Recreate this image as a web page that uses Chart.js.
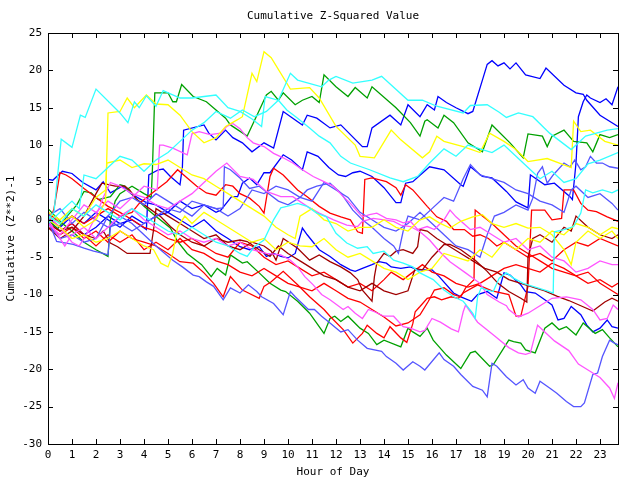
<!DOCTYPE html>
<html>
<head>
<meta charset="utf-8">
<script src="https://cdn.jsdelivr.net/npm/chart.js@4/dist/chart.umd.min.js"></script>
<style>
  html, body { margin: 0; padding: 0; background: #fff; }
  canvas { display: block; }
</style>
</head>
<body>
<canvas id="chart" width="640" height="480"></canvas>
<script>
'use strict';

/* ── Axis ticks ───────────────────────────────────────────── */
const hourTicks = [0,1,2,3,4,5,6,7,8,9,10,11,12,13,14,15,16,17,18,19,20,21,22,23];
const valueTicks = [-30,-25,-20,-15,-10,-5,0,5,10,15,20,25];

/* ── Series: [hour, cumulative value] ─────────────────────── */
const cyanTop = [[0,0],[0.25,1],[0.55,10.8],[1,9.7],[1.35,14],[1.55,13.7],[2,17.5],[3,14.3],[3.33,13],[3.6,15.8],[3.8,15],[4.1,16.6],[4.5,15.2],[4.8,17.3],[5.5,16.3],[6,16.3],[6.5,16.5],[7,16.7],[7.5,15],[8,14.5],[8.5,13.5],[8.9,12.5],[9.05,16.5],[9.6,16],[10.1,19.6],[10.4,18.7],[11.4,17.8],[11.7,18.7],[12,19.2],[12.7,18.3],[13.5,18.7],[13.9,19.2],[15,16],[15.6,16],[16.2,15.2],[17.3,14.3],[17.6,15.3],[18.3,15.4],[18.8,14.4],[19.1,13.7],[19.6,14.3],[20.2,13.8],[20.9,11.6],[21.8,9.4],[22.4,11.2],[23.3,12],[23.75,12.2]];
const cyanUpper = [[0,-0.5],[0.5,1],[1,2.5],[1.3,1.5],[1.5,6],[2,5.5],[2.5,7],[3,8.5],[3.5,8],[4,6.5],[4.5,8],[5,9],[5.5,10.5],[6,12],[6.5,13],[7,14.5],[7.6,13.6],[8.1,14.7],[8.6,13.8],[9.1,14.5],[9.6,16],[9.95,14.7],[10.4,13.6],[10.9,12.3],[11.3,11.2],[11.75,10.3],[12.2,8.5],[12.6,7.6],[13.4,6.7],[14.25,5.6],[14.8,5.1],[15.4,5.8],[15.9,7.6],[16.5,9.5],[17,8.5],[17.5,10],[18,9.5],[18.5,9],[19,10],[19.5,8.5],[20,7],[20.5,5.5],[21,6.5],[21.5,5],[22,5.5],[22.5,7.5],[23,8],[23.75,9]];
const cyanMid = [[0,0.5],[0.5,-0.5],[1,1.5],[1.5,0.5],[2,2],[2.5,1],[3,0],[3.5,1.5],[4,0.5],[4.5,-0.5],[5,-1.5],[5.5,-2],[6,-1],[6.5,-2],[7,-3],[7.5,-3.5],[8,-4.5],[8.3,-4.9],[8.6,-3.6],[9,-2.7],[9.4,0],[9.7,1.6],[9.95,1.8],[10.4,2.2],[10.8,1.8],[11.2,0.9],[11.6,0.4],[12,-1.8],[12.45,-3.1],[12.9,-3.8],[13.3,-3.6],[13.55,-4.5],[14,-4.2],[14.4,-5.4],[14.8,-5.8],[15.2,-6.3],[15.5,-7.1],[16.05,-8],[16.5,-9.4],[16.9,-10.3],[17.3,-10.9],[17.7,-12.5],[17.8,-13.2],[17.9,-10.3],[18.05,-9.1],[18.3,-9.4],[18.55,-9.6],[18.8,-7.8],[19.1,-7.1],[19.4,-7.8],[19.8,-8.5],[20.3,-9],[20.8,-9.5],[21.05,-9.8],[21.1,-1.6],[21.5,-1.3],[21.9,-0.9],[22.2,0.9],[22.4,4],[22.7,3.6],[23.1,4],[23.5,3.6],[23.75,4]];

const yellowPeak = [[0,0.5],[0.5,-0.5],[1,0.5],[1.5,-1],[2,0],[2.4,2.5],[2.5,14.3],[3,14.5],[3.3,16.3],[3.6,15],[4.1,16.7],[4.5,15.5],[5,15.4],[5.5,14],[6,11.8],[6.5,10.3],[7,11],[7.4,12.5],[7.9,13.4],[8.1,13.8],[8.5,19.6],[8.7,18.5],[9,22.5],[9.3,21.7],[10.1,17.5],[10.9,17.7],[11.3,16.3],[12,12.5],[12.8,10],[13,8.5],[13.6,8.3],[14.3,12],[14.7,10.7],[15.6,8.3],[15.9,9.1],[16.2,11.2],[16.5,10.5],[17.3,9.8],[18,9],[18.4,11.6],[19,10.5],[19.5,9.4],[20,7.8],[20.8,8.2],[21.8,7],[21.9,13.2],[22.2,11.8],[22.6,12],[23.2,10.5],[23.75,10]];
const yellowMid = [[0,1],[0.5,0],[1,1.5],[1.5,0.5],[2,3],[2.4,4],[2.45,7.6],[3,8],[3.5,7],[4,7.5],[4.5,7.4],[5,8],[5.5,7],[6,6],[6.5,5.5],[7,4.5],[7.5,3.5],[8,2.5],[8.5,1.5],[9,0.5],[9.5,-1],[10,-2],[10.3,-2.5],[10.5,0.5],[11,1.5],[11.5,0],[12,-0.5],[12.5,-1.5],[13,-1],[13.5,-1],[14,0],[14.5,-1],[15,-1.5],[15.5,0],[15.9,0.4],[16.3,-0.4],[16.75,-1.1],[17.2,-0.2],[17.7,0.4],[18.1,0.7],[18.5,-0.5],[19,-1],[19.5,-0.5],[20,-1.1],[20.5,-1],[21,-2],[21.5,-4],[21.8,-6],[22,-3],[22.5,-1.5],[23,-2.5],[23.5,-1.5],[23.75,-2.5]];
const yellowLow = [[0,0],[0.5,-1],[1,-2.5],[1.5,-2],[2,-3],[2.5,-2.5],[3,-1.5],[3.5,-2.5],[4,-3.5],[4.4,-4],[4.7,-5.8],[5,-6.3],[5.2,-4.5],[5.4,-1],[5.7,0.5],[6,-0.5],[6.5,1],[7,0],[7.5,-1],[8,-2],[8.5,-3],[9,-2.5],[9.5,-4],[10,-3],[10.5,-3.5],[11,-3.6],[11.5,-2.5],[12,-4],[12.5,-5],[13,-4.5],[13.5,-5.5],[14,-6.5],[14.5,-7],[15,-8],[15.5,-7],[16,-6.5],[16.5,-4.5],[17,-5],[17.5,-5.5],[18,-4],[18.5,-5],[19,-3],[19.5,-4],[20,-2.5],[20.5,-3],[21,-1.5],[21.5,-2],[22,-0.5],[22.5,-1],[23,-2],[23.5,-1],[23.75,-1.2]];

const blueTopStart = [[0,5.4],[0.2,5.3],[0.6,6.5],[1,6.2],[1.45,5],[2,4],[2.3,5.1],[2.6,3.6],[3.1,4.5],[3.5,3.4],[4.1,2.3],[4.5,2],[5,1],[5.5,0],[6,-1],[6.5,0],[7,-1.5],[7.5,-2.5],[8,-3.6],[8.4,-4],[8.8,-3.6],[9.1,-4.9],[9.4,-4.5],[9.7,-4.9],[10,-5.1],[10.3,-4.5],[10.6,-1.1],[10.8,-2],[11.3,-4],[11.75,-4.9],[12.2,-6],[12.6,-6.7],[12.8,-6.9],[13.1,-6.5],[13.5,-6],[13.8,-5.6],[14.1,-5.8],[14.3,-6.3],[14.7,-6.5],[15.1,-6.3],[15.4,-6.7],[16,-6.7],[16.3,-7.6],[16.9,-9.8],[17.2,-10.3],[17.65,-10.9],[17.9,-10],[18.3,-9.6],[18.7,-10.5],[19,-7.1],[19.25,-7.4],[19.7,-8.7],[19.9,-9.6],[20.3,-9.8],[20.7,-10.7],[21,-11.4],[21.25,-13.4],[21.5,-13.2],[21.8,-11.6],[22.2,-12.7],[22.45,-14.1],[22.7,-15],[23,-14.5],[23.3,-13.4],[23.5,-14.3],[23.75,-14.5]];
const blueLateJump = [[0,0.3],[0.5,-1],[1,0.5],[1.5,-0.5],[2,1],[2.5,0],[3,-1],[3.5,0.5],[4,-0.5],[4.5,0.5],[5,1],[5.5,2.5],[6,1.5],[6.5,2],[7,1],[7.2,1.3],[7.65,3.1],[7.9,3.1],[8.1,4.9],[8.4,5.6],[8.7,4.7],[9,6.3],[9.25,6.3],[9.8,8.7],[10.15,8],[10.6,6.7],[10.8,9.1],[11.25,8.5],[11.7,7],[12.1,6],[12.4,5.8],[12.7,6.3],[13,6.5],[13.5,5.8],[14,4.3],[14.5,2.3],[14.7,2.3],[14.9,4.9],[15.2,5.1],[15.9,7.1],[16.5,6.7],[17.2,4.7],[17.3,4.5],[17.6,7.1],[18.1,5.8],[18.5,5.6],[19.1,3.8],[19.5,2.4],[20,1.6],[20.1,6],[20.2,5.8],[20.7,4.7],[21.1,4.9],[21.75,3.1],[21.85,2.7],[22,7.6],[22.1,13.8],[22.3,15.8],[22.45,16.7],[22.6,16.3],[23,15.7],[23.25,16.2],[23.5,15.4],[23.75,17.8]];
const blueHigh = [[0,0],[0.5,-1.5],[1,-0.5],[1.5,-2],[2,-1],[2.5,0.5],[3,-0.5],[3.5,0],[4.1,-1.3],[4.2,6],[4.6,6.7],[4.8,6.8],[5.1,5.8],[5.5,4.7],[5.6,7.1],[5.65,12],[6.5,12.7],[6.7,11.6],[7,10.7],[7.4,12],[7.7,11],[8.1,10.3],[8.5,9.1],[9,10.3],[9.4,9.6],[9.8,14.5],[10.6,12.7],[10.8,14],[11.2,13.6],[11.75,12.3],[12.2,12.7],[13.1,9.8],[13.3,9.8],[13.5,12.3],[14.25,14],[14.7,12.7],[15,15.4],[15.5,13.8],[15.8,15.4],[16.1,14.7],[16.25,16.5],[16.6,15.7],[17,15],[17.5,14.2],[17.7,14.5],[18.1,18.7],[18.3,20.8],[18.5,21.3],[18.75,20.6],[19,21],[19.25,20.2],[19.5,21],[19.9,19.4],[20.5,18.9],[20.75,20.3],[21.5,18],[22,17],[22.3,16.8],[22.45,16],[23,14],[23.75,12.5]];

const slateLow = [[0,0],[0.36,-2.9],[0.7,-3.1],[1.05,-3.3],[1.5,-3.8],[1.9,-4.2],[2.3,-4.5],[2.5,-4.7],[2.6,-1],[3,0.5],[3.5,-0.5],[4,-2],[4.5,-3.5],[5.2,-5.4],[5.6,-6.3],[6.05,-7.4],[6.3,-7.6],[6.6,-8.3],[6.9,-8.9],[7.3,-10.7],[7.6,-9.1],[8,-9.8],[8.35,-8.7],[8.7,-9.6],[8.9,-10.3],[9.4,-11.2],[9.8,-12.7],[10.1,-9.6],[10.3,-10.3],[10.85,-12],[11.1,-12],[11.4,-12.9],[11.75,-13.8],[12.2,-15],[12.5,-14.7],[12.9,-16.1],[13.3,-17.2],[13.9,-17.6],[14.1,-18.3],[14.5,-19.2],[14.8,-20.1],[15.2,-19],[15.5,-19.6],[15.7,-20.1],[16.3,-17.8],[16.5,-18.7],[16.9,-19.6],[17.2,-20.7],[17.7,-22.3],[18.1,-22.8],[18.3,-23.7],[18.5,-19.2],[18.7,-19.6],[19.1,-21],[19.5,-22.1],[19.8,-21.4],[20,-22.5],[20.3,-23.2],[20.5,-21.6],[20.9,-22.5],[21.2,-23.2],[21.6,-24.3],[21.9,-25],[22.2,-25],[22.35,-24.5],[22.7,-20.7],[22.9,-20.5],[23.1,-18.3],[23.4,-16.1],[23.6,-16.5],[23.75,-16.7]];
const slateRise = [[0,-0.5],[0.5,-2.5],[1,-2],[1.5,-3],[2,-2.5],[2.5,0.5],[3,2.5],[3.5,3],[4,2],[4.5,3.5],[5,2.5],[5.5,1.5],[6,0.5],[6.5,2],[7,1.5],[7.5,0.5],[8,1.5],[8.5,4],[9,3.5],[9.5,4.5],[10,4],[10.5,3],[11,2.5],[11.5,5],[12,4],[12.5,3],[13,1],[13.5,0],[14,-1],[14.5,-1.5],[15,-0.5],[15.5,1],[16,-0.5],[16.5,-2],[17,-3.5],[17.5,-4],[18,-5],[18.3,-2],[18.6,0.5],[19,1],[19.5,2],[20,1.3],[20.2,2.9],[20.4,6.2],[20.6,7.1],[20.8,4.9],[21.05,6],[21.5,7.6],[21.75,7.1],[21.95,8],[22.2,6.7],[22.4,7.1],[22.6,8.5],[22.85,7.6],[23.1,7.6],[23.4,7.1],[23.75,6.9]];
const slateMid = [[0,0.5],[0.5,1.5],[1,-0.5],[1.5,1],[2,0],[2.5,-1],[3,-0.5],[3.5,-1.5],[4,-0.5],[4.5,0.5],[5,1.5],[5.5,1],[6,2.5],[6.5,2],[7,1.5],[7.3,1.6],[7.35,7.1],[7.6,6.7],[8,5.6],[8.4,4.2],[8.8,4.5],[9.2,3.5],[9.6,2.5],[10,2],[10.5,3],[10.8,4],[11.2,4.5],[11.75,4.9],[12.2,3.6],[12.7,1.3],[13.1,0],[13.5,-1],[14,-2.5],[14.4,-3.5],[14.6,-4.5],[14.8,-1.5],[15,0.5],[15.5,0],[16,1.5],[16.5,3],[16.9,2.5],[17.3,5.5],[17.6,7.4],[18,6],[18.5,5.5],[19,5],[19.5,4],[20,3.5],[20.5,2.5],[21,2],[21.5,1],[21.8,4],[22,4.5],[22.5,3],[23,3.5],[23.5,2.2],[23.75,1.3]];

const greenHigh = [[0,1.5],[0.3,0.5],[0.6,-0.5],[1,-1.5],[1.5,-3],[2,-4],[2.5,-4.9],[2.6,0],[2.8,2.5],[3,3.5],[3.5,4.5],[4,3.5],[4.3,3],[4.35,6.7],[4.45,17],[5,17],[5.2,15.8],[5.35,15.8],[5.57,18.1],[6.05,16.5],[6.6,15.8],[7,14.7],[7.4,13.6],[7.6,12.7],[8.3,11.2],[8.75,14.3],[9.1,16.7],[9.3,17.2],[9.6,16],[9.8,17],[10.3,15.4],[10.6,16],[11,16.5],[11.3,15.7],[11.5,19.4],[12,17.8],[12.5,16.5],[12.8,17.7],[13.3,16.3],[13.5,17.8],[14.5,15],[15.1,13],[15.5,11.2],[15.7,13.2],[15.8,13.4],[16.25,12.3],[16.5,14],[16.9,13],[17.5,10.3],[18.1,9.1],[18.5,12.7],[19.25,10.3],[19.8,8.3],[20,11.5],[20.6,11.2],[20.8,9.8],[21,11.2],[21.5,12],[21.9,10.5],[22.45,10.3],[22.7,9.1],[23,11.4],[23.4,11],[23.75,11.4]];
const greenLow = [[0,0],[0.4,-1.2],[0.8,0.5],[1.2,2],[1.5,3.8],[1.8,3.6],[2.1,2.7],[2.6,3.1],[3,4.7],[3.2,4.5],[3.6,3.1],[4,1.8],[4.4,0.7],[5.1,-1.1],[5.4,-2.9],[5.8,-4.5],[6.4,-6],[6.8,-7.6],[7.05,-6.5],[7.4,-7.4],[7.6,-4.7],[8.1,-5.8],[8.3,-5.6],[8.8,-7.1],[9.25,-8.5],[9.7,-9.4],[9.9,-9.6],[10.4,-10.9],[10.9,-12.5],[11.5,-15.2],[11.75,-13.2],[11.95,-12.9],[12.2,-13.6],[12.5,-12.9],[13,-14.5],[13.35,-15.2],[13.7,-16.7],[14,-16.1],[14.7,-17],[15,-14.5],[15.2,-15],[15.5,-15.6],[15.8,-14.5],[16.05,-16.1],[16.6,-18.1],[17.2,-19.9],[17.6,-17.8],[17.8,-17.6],[18.4,-19.6],[18.55,-19.4],[19.2,-16.1],[19.4,-16.3],[19.7,-16.5],[19.9,-17.4],[20.3,-17.8],[20.7,-14.5],[21,-13.8],[21.3,-14.7],[21.6,-14.3],[22,-15.4],[22.3,-13.8],[22.8,-15.2],[23.1,-14.7],[23.4,-15.8],[23.75,-17]];

const magentaLow = [[0,0],[0.3,-1.5],[0.7,-3.5],[1,-2],[1.5,-1],[2,-2.5],[2.5,-1],[3,0.5],[3.5,1.5],[4,0],[4.5,-1],[5,-2],[5.5,-1.5],[6,-2.5],[6.5,-3],[7,-2.5],[7.5,-3.5],[8,-3],[8.5,-4],[9.1,-4.5],[9.7,-4.7],[10.1,-5.4],[10.4,-6.3],[10.7,-7.6],[11.05,-8.7],[11.4,-10],[11.75,-10.7],[12.3,-12],[12.5,-11.6],[12.8,-12.5],[13.1,-13.2],[13.35,-12],[13.6,-12.3],[14,-12.9],[14.4,-12.9],[14.8,-14.3],[15.1,-14.5],[15.5,-15],[15.7,-14.8],[16,-13.2],[16.35,-13.7],[16.8,-14.6],[17.1,-15],[17.3,-12.3],[17.4,-11.4],[17.9,-13.7],[18.6,-15.5],[19.2,-17.1],[19.6,-17.8],[19.9,-18],[20.1,-17.8],[20.4,-14.1],[20.7,-15],[21.1,-16.2],[21.7,-17.5],[22.1,-19.3],[22.55,-20.2],[23,-21.1],[23.4,-22.5],[23.6,-23.9],[23.75,-21.8]];
const magentaMid = [[0,-0.5],[0.5,-2],[1,0],[1.5,2],[2,1],[2.5,2.5],[3,1.5],[3.5,3],[4,4.5],[4.55,4],[4.65,10],[4.8,10],[5.2,9.6],[5.8,8.7],[6,11.5],[6.3,11.8],[6.75,11.4],[7.2,11.6],[7.45,12.5],[7.7,12.9],[8,12.2],[8.3,11],[8.55,10.3],[9,9.8],[9.4,8.9],[9.8,8.3],[10.2,7.6],[10.6,6.7],[11.05,5.8],[11.5,5.1],[11.9,4.5],[12.3,3.1],[12.6,2.2],[12.9,1.1],[13.1,0.4],[13.4,0.7],[13.7,0.9],[14.1,0.2],[14.5,0],[14.8,-0.4],[15.1,-0.2],[15.4,-1.3],[15.8,-0.9],[16.1,-1.3],[16.5,0],[16.75,1.3],[17,0.4],[17.6,-1.3],[18,-1],[18.5,-2],[19,-3],[19.5,-2.5],[20,-4],[20.5,-3.5],[21,-5],[21.5,-5.5],[22,-7],[22.5,-6.5],[23,-5.5],[23.5,-6],[23.75,-6]];
const magentaDrift = [[0,0.5],[0.5,-1],[1,-3],[1.3,-3.5],[1.6,-2],[2,0.5],[2.3,3],[2.6,5],[3,4.5],[3.5,3.5],[4,3],[4.5,2],[5,1.5],[5.5,2.5],[6,3.5],[6.5,5],[7,6.5],[7.45,7.6],[8,5.8],[8.55,5.4],[9.1,3.8],[9.7,3.1],[10.2,3.1],[10.8,1.8],[11.3,0.9],[11.9,0],[12.45,-0.7],[12.9,-0.9],[13.1,-0.2],[13.55,0.2],[14,0],[14.4,-0.2],[14.7,-0.7],[15.1,-0.9],[15.5,-1.6],[15.9,-2.7],[16.3,-4.2],[16.75,-5.6],[17.4,-7.1],[18,-8.5],[18.3,-10],[18.8,-11],[19.1,-11.5],[19.2,-12],[19.6,-13],[20,-12.5],[20.5,-11.5],[21,-10.5],[21.6,-10.3],[22.2,-10.7],[22.7,-12],[23,-13.4],[23.3,-13.2],[23.55,-11.4],[23.75,-12]];

const redLow = [[0,-1],[0.5,-2],[1,-1],[1.5,-2.5],[2,-1.5],[2.5,-3],[3,-1.5],[3.5,-2.5],[4,-3],[4.5,-3.5],[5,-4.5],[5.5,-5.6],[6.05,-5.8],[6.5,-7.1],[6.9,-8.5],[7.3,-10.3],[7.6,-7.6],[8.1,-9.4],[8.8,-10.5],[9,-8.9],[9.3,-8.3],[9.8,-6.9],[10.4,-8.7],[10.9,-10.3],[11.5,-12],[11.75,-12.9],[12.3,-14.7],[12.7,-16.5],[13.1,-15.2],[13.3,-14.1],[13.7,-15.2],[14,-15.8],[14.25,-14.3],[14.7,-15.8],[14.95,-16.4],[15.2,-13.9],[15.3,-12.3],[15.5,-11.6],[15.8,-10.5],[16.1,-10.3],[16.4,-10.7],[16.8,-10.3],[17.1,-10.5],[17.3,-9.8],[17.9,-8.7],[18.5,-9.5],[19.2,-10],[19.5,-12.9],[19.7,-12.9],[20,-8.9],[20.15,1.3],[20.4,1.3],[20.7,1.3],[21,0],[21.4,0.2],[21.5,4],[21.9,4],[22.2,2.2],[22.5,1.3],[22.85,1.1],[23.3,0.4],[23.75,-0.2]];
const redUpper = [[0,1],[0.5,-0.5],[1,0.5],[1.5,-0.5],[2,0.5],[2.5,1.5],[3,0.5],[3.5,1],[3.8,2.2],[4.5,4],[4.95,5.1],[5.4,6.7],[5.8,5.6],[6.2,4.5],[6.6,3.6],[7,3.3],[7.4,4.7],[7.7,4.5],[8,3.5],[8.4,2.9],[8.8,1.8],[9,0.9],[9.25,5.8],[9.4,6.9],[9.8,6],[10.4,4],[10.8,3.1],[11.3,1.8],[11.75,0.9],[12.2,0.4],[12.6,0],[12.9,-1.6],[13.1,-1.8],[13.2,5.4],[13.5,5.6],[14.1,5.1],[14.5,4.3],[14.7,3.3],[14.9,4.7],[15.2,4],[15.5,2.9],[15.8,1.8],[16.2,0.4],[16.6,-0.2],[16.9,-1.3],[17.35,-1.3],[17.7,-2.2],[18,-2],[18.35,-2.5],[18.7,-3.5],[19,-3],[19.5,-4],[20,-5],[20.5,-4.5],[21,-5.5],[21.5,-4],[22,-3],[22.5,-3.5],[23,-2.5],[23.75,-3.5]];
const redJump = [[0,-0.5],[0.5,-1.5],[1,-0.5],[1.5,-2],[2,-3.5],[2.5,-2],[3,-3],[3.5,-2],[4,-4],[4.5,-3],[5,-4],[5.5,-2.5],[6,-4],[6.5,-4.5],[7,-5.5],[7.5,-6],[8,-7],[8.5,-7.5],[9,-6.5],[9.5,-7.5],[10,-8.5],[10.5,-9],[11,-9.5],[11.5,-8.5],[12,-9.5],[12.5,-10.5],[13,-11],[13.5,-12],[14,-13],[14.5,-14.2],[15,-13.8],[15.5,-12.7],[15.85,-10.9],[16.1,-9.4],[16.5,-9.1],[16.9,-10],[17.2,-10.3],[17.4,-9.1],[17.75,-8],[17.8,1.3],[18.1,0.5],[18.5,-0.5],[19,-2],[19.5,-3.5],[20,-4.5],[20.5,-5.5],[21,-6.5],[21.5,-7],[22,-7.5],[22.5,-8.5],[23,-8],[23.5,-9],[23.75,-8.5]];
const redEarly = [[0,-1],[0.25,1.5],[0.5,6.3],[0.75,6],[1,5.5],[1.5,4.2],[2,3],[2.5,1.8],[3,1],[3.5,0],[4,-1],[4.5,-1.5],[5,-2.5],[5.5,-3],[6,-2.5],[6.5,-3.5],[7,-4.5],[7.5,-5],[8,-3],[8.5,-3.5],[9,-5],[9.5,-6],[10,-5.5],[10.5,-6.5],[11,-7.5],[11.5,-7],[12,-8],[12.5,-9],[13,-8.5],[13.5,-9.5],[14,-8],[14.3,-7],[14.8,-8],[15.2,-7],[15.6,-6],[16,-7],[16.5,-7.5],[17,-8.5],[17.5,-9],[18,-8.5],[18.5,-7.5],[19,-6.5],[19.5,-6],[20,-6.5],[20.5,-7],[21,-5.8],[21.5,-6.5],[22,-7.5],[22.5,-7],[23,-8.5],[23.5,-9.5],[23.75,-10]];

const darkredA = [[0,-0.5],[0.5,-1.5],[1,-1],[1.5,-2],[2,-2.5],[2.3,-1.5],[2.6,-3.1],[2.9,-3.6],[3.3,-4.5],[4.25,-4.5],[4.4,-1.3],[4.5,1.5],[5,0.5],[5.5,-0.5],[6,-1.5],[6.5,-2.5],[7,-2],[7.5,-3.5],[8,-4],[8.5,-3],[9,-3.5],[9.3,-4.2],[9.5,-5.4],[9.8,-2.5],[10.4,-3.8],[10.9,-5.4],[11.3,-4.7],[11.75,-5.6],[12.2,-6.3],[12.6,-7.1],[12.9,-8],[13.1,-9.4],[13.5,-10.9],[13.6,-7.6],[13.7,-5.8],[14,-4.5],[14.25,-4.9],[14.5,-4.2],[14.8,-4],[15.2,-4.5],[15.4,-3.6],[15.5,-1.3],[15.8,-1.5],[16.2,-2.5],[16.7,-3.5],[17.2,-4.5],[17.7,-5.5],[18.2,-6.5],[18.7,-7],[19.2,-8],[19.7,-8.5],[20.2,-9],[20.7,-9.5],[21.2,-10.2],[21.7,-10.8],[22.2,-11.5],[22.7,-12.2],[23.2,-11],[23.5,-10.5],[23.75,-10.9]];
const darkredB = [[0,-1],[0.5,-2.5],[1,-1.5],[1.5,0.5],[2,3.5],[2.25,4.9],[2.8,4.5],[3.2,4.5],[3.4,4],[3.7,2.7],[4.1,1.8],[4.7,0.4],[5.1,-0.9],[5.5,-2],[6,-3],[6.5,-3.5],[7,-2.5],[7.5,-3],[8,-2.7],[8.3,-2.9],[8.8,-4],[9.25,-4.9],[9.6,-3.5],[10,-4.5],[10.5,-5.5],[11,-6.5],[11.5,-7.5],[12,-8],[12.5,-9],[13,-9.5],[13.5,-8.5],[14,-9.5],[14.5,-10],[15,-9.5],[15.3,-6.5],[15.6,-6.7],[16,-5],[16.5,-3.3],[16.75,-3.3],[17.2,-4],[17.8,-5.4],[18.3,-6.9],[18.75,-8.5],[19.2,-9.6],[19.7,-10.5],[19.95,-11],[20,-5],[20.2,-2.5],[20.5,-2],[21,-3],[21.5,-1],[21.8,-1.5],[22,0.5],[22.5,-1],[23,-2],[23.5,-2.5],[23.75,-2]];

/* ── Colours ──────────────────────────────────────────────── */
const CYAN = '#33ffff', YELLOW = '#ffff00', BLUE = '#0000ff', SLATE = '#5555ff';
const GREEN = '#00a000', MAGENTA = '#ff55ff', RED = '#ff0000', DARKRED = '#a00000';

const seriesList = [
  [cyanTop, CYAN], [cyanUpper, CYAN], [cyanMid, CYAN],
  [yellowPeak, YELLOW], [yellowMid, YELLOW], [yellowLow, YELLOW],
  [magentaLow, MAGENTA], [magentaMid, MAGENTA], [magentaDrift, MAGENTA],
  [slateLow, SLATE], [slateRise, SLATE], [slateMid, SLATE],
  [darkredA, DARKRED], [darkredB, DARKRED],
  [redLow, RED], [redUpper, RED], [redJump, RED], [redEarly, RED],
  [greenHigh, GREEN], [greenLow, GREEN],
  [blueTopStart, BLUE], [blueLateJump, BLUE], [blueHigh, BLUE]
];

const FONT = { family: '"DejaVu Sans Mono", monospace', size: 11 };

/* ── Frame, inward ticks and title (gnuplot look) ─────────── */
const framePlugin = {
  id: 'frame',
  afterDraw(chart) {
    const { ctx, chartArea: a, scales } = chart;
    ctx.save();
    ctx.strokeStyle = '#000';
    ctx.lineWidth = 1;
    ctx.strokeRect(a.left + 0.5, a.top + 0.5, a.right - a.left, a.bottom - a.top);
    ctx.beginPath();
    hourTicks.forEach(v => {
      const px = Math.round(scales.x.getPixelForValue(v)) + 0.5;
      ctx.moveTo(px, a.top); ctx.lineTo(px, a.top + 5);
      ctx.moveTo(px, a.bottom); ctx.lineTo(px, a.bottom - 5);
    });
    valueTicks.forEach(v => {
      const py = Math.round(scales.y.getPixelForValue(v)) + 0.5;
      ctx.moveTo(a.left, py); ctx.lineTo(a.left + 5, py);
      ctx.moveTo(a.right, py); ctx.lineTo(a.right - 5, py);
    });
    ctx.stroke();
    ctx.fillStyle = '#000';
    ctx.font = `${FONT.size}px ${FONT.family}`;
    ctx.textAlign = 'center';
    ctx.textBaseline = 'middle';
    ctx.fillText('Cumulative Z-Squared Value', (a.left + a.right) / 2, 16);
    ctx.restore();
  }
};

new Chart(document.getElementById('chart'), {
  type: 'line',
  data: {
    datasets: seriesList.map(([pts, color]) => ({
      data: pts.map(([x, y]) => ({ x, y })),
      borderColor: color,
      borderWidth: 1.3,
      pointRadius: 0,
      tension: 0,
      fill: false
    }))
  },
  options: {
    responsive: false,
    animation: false,
    layout: { padding: { top: 33, right: 22, left: 0, bottom: 0 } },
    plugins: { legend: { display: false }, tooltip: { enabled: false } },
    scales: {
      x: {
        type: 'linear', min: 0, max: 23.75,
        afterBuildTicks: s => { s.ticks = hourTicks.map(v => ({ value: v })); },
        afterFit: s => { s.height = 36; },
        grid: { display: false, drawTicks: false },
        border: { display: false },
        ticks: { font: FONT, color: '#000', padding: 5, maxRotation: 0, autoSkip: false },
        title: { display: true, text: 'Hour of Day', font: FONT, color: '#000', padding: { top: 0, bottom: 1 } }
      },
      y: {
        type: 'linear', min: -30, max: 25,
        afterBuildTicks: s => { s.ticks = valueTicks.map(v => ({ value: v })); },
        afterFit: s => { s.width = 48; },
        grid: { display: false, drawTicks: false },
        border: { display: false },
        ticks: { font: FONT, color: '#000', padding: 6 },
        title: { display: true, text: 'Cumulative (Z**2)-1', font: FONT, color: '#000', padding: { top: 5, bottom: 0 } }
      }
    }
  },
  plugins: [framePlugin]
});
</script>
</body>
</html>
